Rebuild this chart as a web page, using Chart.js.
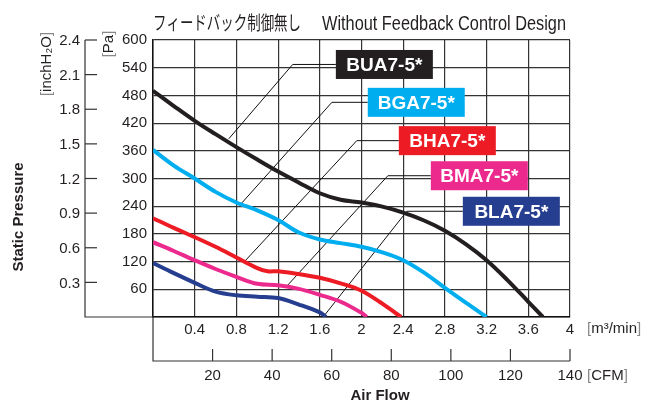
<!DOCTYPE html>
<html>
<head>
<meta charset="utf-8">
<script src="https://cdn.jsdelivr.net/npm/chart.js@4"></script>
<style>
  body { margin: 0; background: #fff; }
</style>
</head>
<body>
<canvas id="pq" width="653" height="403"></canvas>
<script>
// 風量 [m3/min] / 静圧 [Pa]
var flowBUA = [0, 0.2, 0.4, 0.6, 0.8, 1.0, 1.2, 1.4, 1.6, 1.8, 2.0, 2.2, 2.4, 2.6, 2.8, 3.0, 3.2, 3.4, 3.6, 3.74];
var presBUA = [490, 457, 425, 396, 368, 341, 315, 291, 268, 254, 248, 239, 226, 209, 187, 158, 123, 80, 33, 0];
var flowBGA = [0, 0.2, 0.4, 0.6, 0.8, 1.0, 1.2, 1.4, 1.6, 1.8, 2.0, 2.2, 2.4, 2.6, 2.8, 3.0, 3.2];
var presBGA = [362, 328, 300, 271, 248, 231, 210, 183, 168, 160, 152, 140, 123, 96, 63, 31, 0];
var flowBHA = [0, 0.2, 0.4, 0.6, 0.8, 1.0, 1.1, 1.2, 1.4, 1.6, 1.8, 2.0, 2.2, 2.38];
var presBHA = [214, 193, 173, 152, 129, 106, 99, 99, 93, 85, 73, 57, 29, 0];
var flowBMA = [0, 0.2, 0.4, 0.6, 0.8, 1.0, 1.2, 1.4, 1.6, 1.8, 2.0, 2.05];
var presBMA = [162, 143, 123, 104, 87, 72, 69, 61, 48, 33, 9, 0];
var flowBLA = [0, 0.2, 0.4, 0.6, 0.8, 1.0, 1.2, 1.4, 1.6, 1.66];
var presBLA = [117, 95, 74, 55, 47, 44, 41, 27, 10, 0];

var models = ['BUA7-5*', 'BGA7-5*', 'BHA7-5*', 'BMA7-5*', 'BLA7-5*'];
var colors = ['#231f20', '#00aeef', '#ed1c24', '#ec2a8e', '#263e8f'];

var cfmTicks = [20, 40, 60, 80, 100, 120, 140];
var inchTicks = [0.3, 0.6, 0.9, 1.2, 1.5, 1.8, 2.1, 2.4];

// ラベルの位置 (データ座標)
var tagLeft = [1.754, 2.060, 2.358, 2.665, 2.972];
var tagMid = [547, 465, 382, 306, 229];
var elbowX = [1.340, 1.716, 1.955, 2.253, 2.435];
var endX = [0.727, 0.852, 0.881, 1.284, 1.639];
var endY = [386, 247, 121, 67, 2];

var ink = '#231f20';
Chart.defaults.font.family = '"Liberation Sans", Arial, sans-serif';
Chart.defaults.color = ink;

function pts(fx, py) {
    return fx.map(function (v, i) { return { x: v, y: py[i] }; });
}
var allFlow = [flowBUA, flowBGA, flowBHA, flowBMA, flowBLA];
var allPres = [presBUA, presBGA, presBHA, presBMA, presBLA];

function parts(ctx, list, x, y) {
    list.forEach(function (p) {
        ctx.fillStyle = p[1];
        ctx.fillText(p[0], x, y);
        x += ctx.measureText(p[0]).width;
    });
}
function fitText(ctx, text, x, y, w) {
    var m = ctx.measureText(text).width;
    ctx.save();
    ctx.translate(x, y);
    ctx.scale(w / m, 1);
    ctx.fillText(text, 0, 0);
    ctx.restore();
}

var decor = {
    id: 'decor',
    beforeDatasetsDraw: function (chart) {
        var ctx = chart.ctx, xs = chart.scales.x, ys = chart.scales.y;
        ctx.save();
        ctx.strokeStyle = '#111';
        ctx.lineWidth = 1;
        for (var i = 0; i < models.length; i++) {
            var y0 = ys.getPixelForValue(tagMid[i]);
            ctx.beginPath();
            ctx.moveTo(xs.getPixelForValue(tagLeft[i]), y0);
            ctx.lineTo(xs.getPixelForValue(elbowX[i]), y0);
            ctx.lineTo(xs.getPixelForValue(endX[i]), ys.getPixelForValue(endY[i]));
            ctx.stroke();
        }
        ctx.restore();
    },
    afterDraw: function (chart) {
        var ctx = chart.ctx, a = chart.chartArea;
        var ys = chart.scales.y, xs = chart.scales.x;
        var y2 = chart.scales.y2, x2 = chart.scales.x2;
        ctx.save();

        // inchH2O 軸
        var ax = a.left - 68;
        ctx.strokeStyle = '#333';
        ctx.lineWidth = 1.2;
        ctx.beginPath();
        ctx.moveTo(ax, a.top);
        ctx.lineTo(ax, a.bottom);
        ctx.lineTo(a.left, a.bottom);
        ctx.stroke();
        ctx.font = '15px "Liberation Sans", Arial';
        ctx.fillStyle = ink;
        ctx.textAlign = 'right';
        ctx.textBaseline = 'middle';
        inchTicks.forEach(function (v) {
            var py = y2.getPixelForValue(v);
            ctx.beginPath();
            ctx.moveTo(ax, py);
            ctx.lineTo(ax + 12, py);
            ctx.stroke();
            ctx.fillText(v.toFixed(1), ax - 5, py + 1);
        });

        // CFM 軸
        var by = a.bottom + 44;
        ctx.beginPath();
        ctx.moveTo(a.left, a.bottom);
        ctx.lineTo(a.left, by);
        ctx.lineTo(a.right, by);
        ctx.stroke();
        ctx.textAlign = 'center';
        cfmTicks.forEach(function (v) {
            var px = x2.getPixelForValue(v);
            ctx.beginPath();
            ctx.moveTo(px, by);
            ctx.lineTo(px, by - 12);
            ctx.stroke();
            ctx.fillText(String(v), px, by + 15);
        });

        // 単位
        ctx.textAlign = 'left';
        parts(ctx, [['[', '#888'], ['m³/min', ink], [']', '#888']], a.right + 17, a.bottom + 12);
        parts(ctx, [['[', '#888'], ['CFM', ink], [']', '#888']], a.right + 17, by + 15);

        ctx.font = 'bold 15px "Liberation Sans", Arial';
        ctx.textAlign = 'center';
        ctx.fillStyle = ink;
        ctx.fillText('Air Flow', 380, 396);

        ctx.save();
        ctx.translate(19, 217);
        ctx.rotate(-Math.PI / 2);
        ctx.fillText('Static Pressure', 0, 0);
        ctx.restore();

        ctx.font = '15px "Liberation Sans", Arial';
        ctx.save();
        ctx.translate(47, 64);
        ctx.rotate(-Math.PI / 2);
        ctx.textAlign = 'left';
        var t1 = [['[', '#888'], ['inchH₂O', ink], [']', '#888']];
        var w1 = t1.reduce(function (s, p) { return s + ctx.measureText(p[0]).width; }, 0);
        parts(ctx, t1, -w1 / 2, 0);
        ctx.restore();

        ctx.save();
        ctx.translate(109, 44);
        ctx.rotate(-Math.PI / 2);
        ctx.textAlign = 'left';
        var t2 = [['[', '#888'], ['Pa', ink], [']', '#888']];
        var w2 = t2.reduce(function (s, p) { return s + ctx.measureText(p[0]).width; }, 0);
        parts(ctx, t2, -w2 / 2, 0);
        ctx.restore();

        // タイトル
        ctx.textAlign = 'left';
        ctx.textBaseline = 'alphabetic';
        ctx.fillStyle = ink;
        ctx.font = '19px "Noto Sans CJK JP"';
        fitText(ctx, 'フィードバック制御無し', 153, 30, 148);
        ctx.font = '20px "Liberation Sans", Arial';
        fitText(ctx, 'Without Feedback Control Design', 322, 30, 244);

        // 型式ラベル
        ctx.font = 'bold 19px "Liberation Sans", Arial';
        ctx.textAlign = 'center';
        ctx.textBaseline = 'middle';
        for (var i = 0; i < models.length; i++) {
            var lx = xs.getPixelForValue(tagLeft[i]);
            var ly = ys.getPixelForValue(tagMid[i]);
            ctx.fillStyle = colors[i];
            ctx.fillRect(lx, ly - 14.5, 97, 29);
            ctx.fillStyle = '#fff';
            ctx.fillText(models[i], lx + 48.5, ly + 1);
        }
        ctx.restore();
    }
};

new Chart(document.getElementById('pq').getContext('2d'), {
    type: 'line',
    data: {
        datasets: models.map(function (m, i) {
            return {
                label: m,
                data: pts(allFlow[i], allPres[i]),
                borderColor: colors[i],
                borderWidth: 4,
                pointRadius: 0,
                fill: false,
                tension: 0.35
            };
        })
    },
    options: {
        responsive: false,
        animation: false,
        layout: { padding: { top: 40, right: 83, left: 0, bottom: 0 } },
        plugins: { legend: { display: false }, tooltip: { enabled: false } },
        scales: {
            x: {
                type: 'linear',
                min: 0,
                max: 4,
                afterFit: function (s) { s.height = 86; },
                ticks: {
                    stepSize: 0.4,
                    padding: 4,
                    maxRotation: 0,
                    font: { size: 15 },
                    callback: function (v) { return v === 0 ? '' : String(Math.round(v * 10) / 10); }
                },
                grid: { color: '#333', lineWidth: 1.2, drawTicks: false },
                border: { color: '#111', width: 1.5 }
            },
            y: {
                min: 0,
                max: 600,
                afterFit: function (s) { s.width = 153; },
                ticks: {
                    stepSize: 60,
                    padding: 6,
                    font: { size: 15 },
                    callback: function (v) { return v === 0 ? '' : String(v); }
                },
                grid: { color: '#333', lineWidth: 1.2, drawTicks: false },
                border: { color: '#111', width: 1.5 }
            },
            x2: { type: 'linear', position: 'bottom', display: false, min: 0, max: 140 },
            y2: { type: 'linear', position: 'left', display: false, min: 0, max: 2.4 }
        }
    },
    plugins: [decor]
});
</script>
</body>
</html>
